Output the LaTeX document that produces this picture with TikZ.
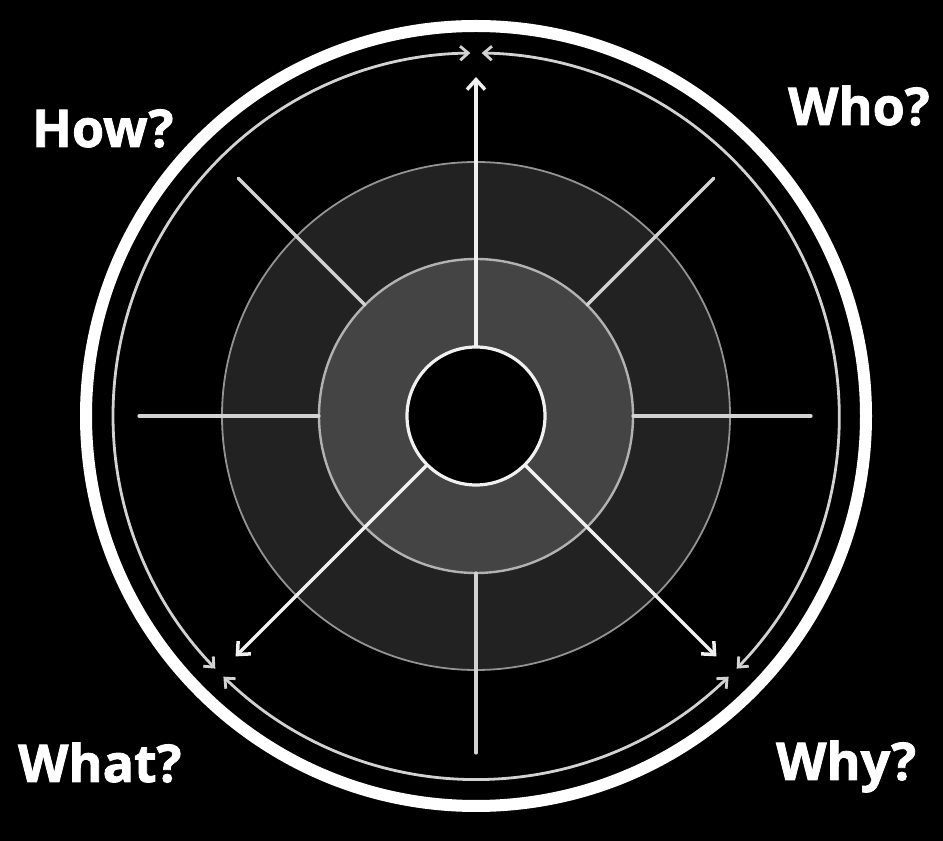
\documentclass[tikz,border=0pt]{standalone}
\usepackage{fontspec}
\setmainfont{Open Sans}[BoldFeatures={FakeBold=1.6}]
\usetikzlibrary{calc,arrows.meta}
\definecolor{ringdark}{HTML}{222222}
\definecolor{ringmid}{HTML}{444444}
\definecolor{spoke}{HTML}{D2D2D2}
\definecolor{spokebright}{HTML}{F0F0F0}
\tikzset{
  ringnode/.style={circle, inner sep=0pt, outer sep=0pt},
  spokeline/.style={draw=spoke, line width=3.3pt, line cap=round},
  spokearrow/.style={draw=spokebright, line width=3.5pt, -{Straight Barb[length=10pt,width=18pt,line width=3.5pt]}},
  arcline/.style={draw=spoke, line width=2.8pt, {Straight Barb[length=8pt,width=14pt,line width=2.8pt]}-{Straight Barb[length=8pt,width=14pt,line width=2.8pt]}},
  qlabel/.style={text=white, font=\fontsize{52}{58}\selectfont\bfseries, inner sep=0pt, anchor=base west}
}
\begin{document}
\begin{tikzpicture}[x=1pt,y=1pt]
\fill[black] (0,0) rectangle (943,841);
\useasboundingbox (0,0) rectangle (943,841);
\coordinate (C) at (476,425);

% outer ring
\draw[white, line width=12pt] (C) circle[radius=390];

% thin arrowed arcs
\draw[arcline] ($(C)+(90.9:363)$) arc[start angle=90.9, end angle=224.1, radius=363];
\draw[arcline] ($(C)+(225.9:363)$) arc[start angle=225.9, end angle=314.1, radius=363];
\draw[arcline] ($(C)+(315.9:363)$) arc[start angle=315.9, end angle=449.1, radius=363];

% rings
\node[ringnode, minimum size=508pt, fill=ringdark, draw=spoke!70!black, line width=1.8pt] (darkring) at (C) {};

% spoke end points
\coordinate (eN) at ($(C)+(90:339)$);
\coordinate (eNE) at ($(C)+(45:336)$);
\coordinate (eE) at ($(C)+(0:335)$);
\coordinate (eSE) at ($(C)+(315:340)$);
\coordinate (eS) at ($(C)+(270:337)$);
\coordinate (eSW) at ($(C)+(225:340)$);
\coordinate (eW) at ($(C)+(180:337)$);
\coordinate (eNW) at ($(C)+(135:336)$);

\node[ringnode, minimum size=314pt, fill=ringmid, draw=spoke!85!black, line width=2.4pt] (midring) at (C) {};
\node[ringnode, minimum size=138pt, fill=black, draw=spokebright, line width=3.2pt] (core) at (C) {};

\draw[spokeline] (midring.45) -- (eNE);
\draw[spokeline] (midring.east) -- (eE);
\draw[spokeline] (midring.south) -- (eS);
\draw[spokeline] (midring.west) -- (eW);
\draw[spokeline] (midring.135) -- (eNW);
\draw[spokearrow] (core.north) -- (eN);
\draw[spokearrow] (core.225) -- (eSW);
\draw[spokearrow] (core.315) -- (eSE);

% labels
\node[qlabel] (how) at (32,694) {How?};
\node[qlabel] (who) at (788,716) {Who?};
\node[qlabel] (what) at (18,59) {What?};
\node[qlabel] (why) at (776,61) {Why?};
\end{tikzpicture}
\end{document}
